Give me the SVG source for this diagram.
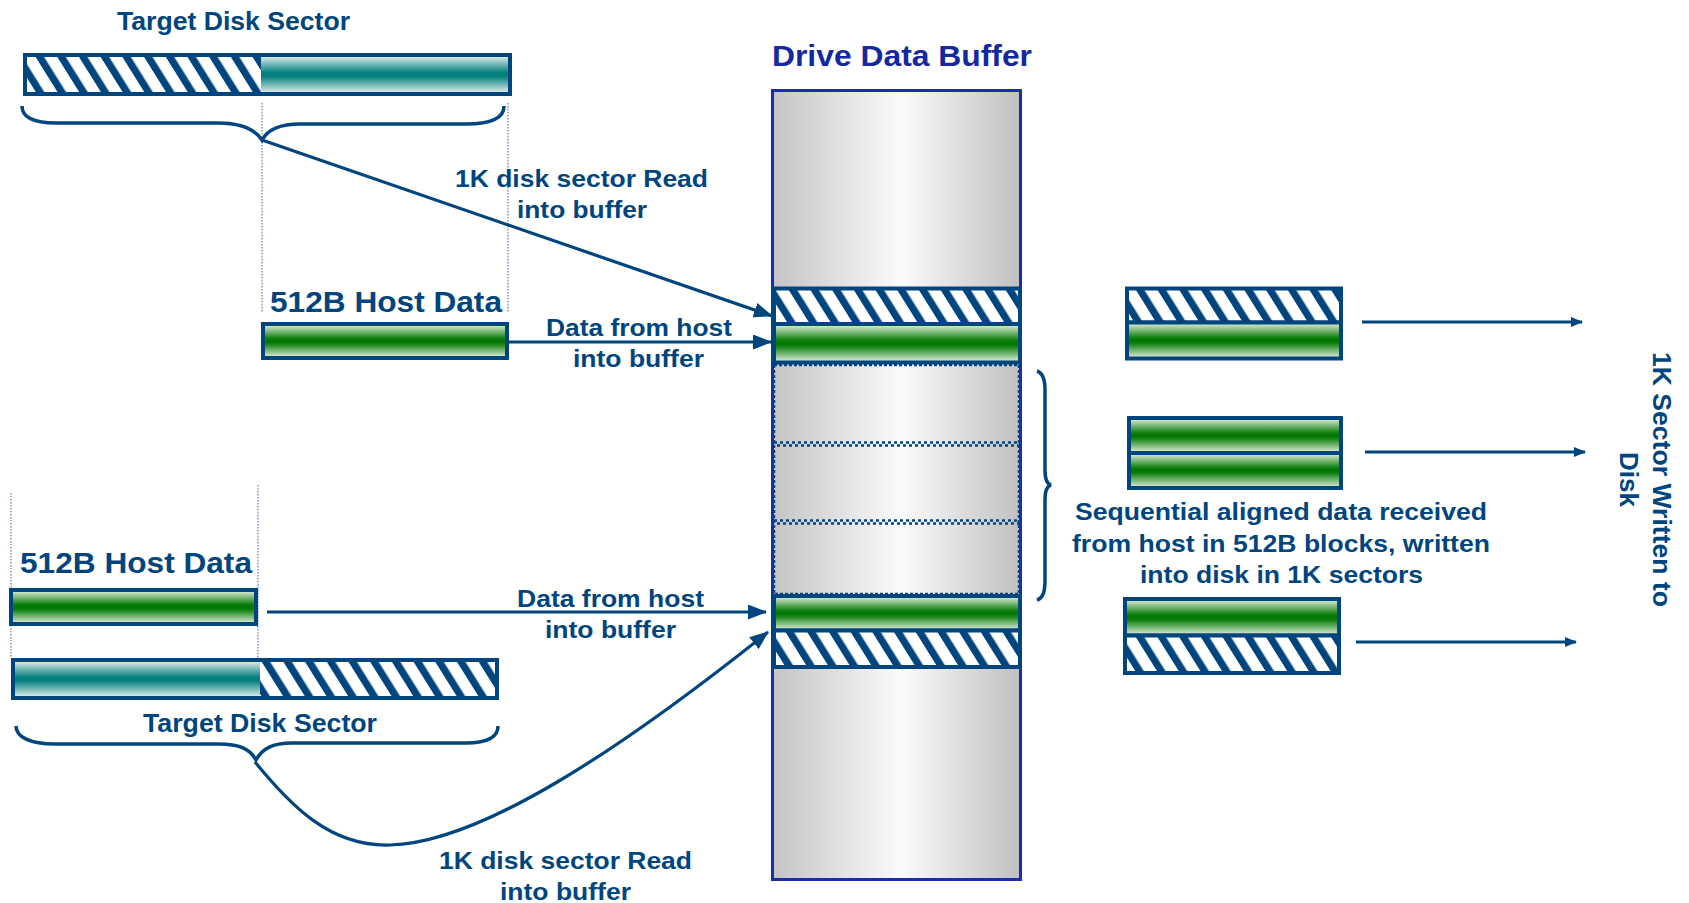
<svg xmlns="http://www.w3.org/2000/svg" width="1689" height="903" viewBox="0 0 1689 903">
<defs>
<style>
.t{font-family:"Liberation Sans",Arial,sans-serif;font-weight:bold;fill:#00457d}
.box{stroke:#00457d;stroke-width:4}
.ln{stroke:#00457d;stroke-width:3.2;fill:none}
.br{stroke:#00457d;stroke-width:3.5;fill:none}
.dot{stroke:#5b80a8;stroke-width:1.2;stroke-dasharray:1.5 1.5;fill:none}
.sep{stroke:#00457d;stroke-width:2.5;stroke-dasharray:3 3}
</style>
<linearGradient id="teal" x1="0" y1="0" x2="0" y2="1">
<stop offset="0" stop-color="#f0f7f3"/><stop offset="0.45" stop-color="#04807e"/><stop offset="0.55" stop-color="#04807e"/><stop offset="1" stop-color="#f0f7f3"/>
</linearGradient>
<linearGradient id="green" x1="0" y1="0" x2="0" y2="1">
<stop offset="0" stop-color="#ecf3e6"/><stop offset="0.42" stop-color="#0f800f"/><stop offset="0.5" stop-color="#007600"/><stop offset="0.58" stop-color="#0f800f"/><stop offset="1" stop-color="#ecf3e6"/>
</linearGradient>
<linearGradient id="gray" x1="0" y1="0" x2="1" y2="0">
<stop offset="0" stop-color="#c4c4c4"/><stop offset="0.52" stop-color="#fbfbfb"/><stop offset="1" stop-color="#c0c0c0"/>
</linearGradient>
<pattern id="hatch" patternUnits="userSpaceOnUse" width="18.4" height="18.4" patternTransform="rotate(-32)">
<rect width="18.4" height="18.4" fill="#ffffff"/><rect width="7.2" height="18.4" fill="#00457d"/>
</pattern>
<marker id="ah" markerUnits="userSpaceOnUse" markerWidth="19" markerHeight="15" refX="18" refY="7.5" orient="auto">
<path d="M0,0 L19,7.5 L0,15 z" fill="#00457d"/>
</marker>
<marker id="ahs" markerUnits="userSpaceOnUse" markerWidth="12" markerHeight="10" refX="11" refY="5" orient="auto">
<path d="M0,0 L12,5 L0,10 z" fill="#00457d"/>
</marker>
</defs>
<rect width="1689" height="903" fill="#ffffff"/>

<g id="guides">
<line class="dot" x1="262" y1="103" x2="262" y2="313"/>
<line class="dot" x1="508" y1="103" x2="508" y2="313"/>
<line class="dot" x1="11" y1="493" x2="11" y2="658"/>
<line class="dot" x1="258" y1="485" x2="258" y2="658"/>
</g>

<g id="top-sector">
<text class="t" x="117" y="30" font-size="25.5" textLength="233" lengthAdjust="spacingAndGlyphs">Target Disk Sector</text>
<rect x="25" y="55" width="236" height="39" fill="url(#hatch)"/>
<rect x="261" y="55" width="249" height="39" fill="url(#teal)"/>
<rect class="box" x="25" y="55" width="485" height="39" fill="none"/>
</g>

<g id="host-data-top">
<text class="t" x="270" y="312" font-size="29" textLength="232" lengthAdjust="spacingAndGlyphs">512B Host Data</text>
<rect class="box" x="263" y="324" width="244" height="34" fill="url(#green)"/>
</g>

<g id="drive-buffer">
<text x="772" y="66" font-size="29" textLength="260" lengthAdjust="spacingAndGlyphs" style="font-family:'Liberation Sans',Arial,sans-serif;font-weight:bold;fill:#1428a0">Drive Data Buffer</text>
<rect x="772.5" y="90.5" width="248" height="789" fill="url(#gray)" stroke="#1a2eaa" stroke-width="3"/>
<rect class="box" x="774" y="288.5" width="246" height="35.5" fill="url(#hatch)"/>
<rect class="box" x="774" y="324" width="246" height="38.5" fill="url(#green)"/>
<rect x="774" y="365" width="245" height="229" fill="none" stroke="#00457d" stroke-width="2.5" stroke-dasharray="3 2"/>
<line class="sep" x1="774" y1="442.5" x2="1019" y2="442.5"/>
<line class="sep" x1="777" y1="445.5" x2="1019" y2="445.5"/>
<line class="sep" x1="774" y1="520.5" x2="1019" y2="520.5"/>
<line class="sep" x1="777" y1="523.5" x2="1019" y2="523.5"/>
<rect class="box" x="774" y="596" width="246" height="34.5" fill="url(#green)"/>
<rect class="box" x="774" y="630.5" width="246" height="36.5" fill="url(#hatch)"/>
</g>

<g id="written-sector-1">
<rect class="box" x="1127" y="288.5" width="214" height="34" fill="url(#hatch)"/>
<rect class="box" x="1127" y="322.5" width="214" height="36" fill="url(#green)"/>
</g>
<g id="written-sector-2">
<rect class="box" x="1129" y="418" width="212" height="35" fill="url(#green)"/>
<rect class="box" x="1129" y="453" width="212" height="35" fill="url(#green)"/>
</g>
<g id="written-sector-3">
<rect class="box" x="1125" y="599" width="214" height="36.5" fill="url(#green)"/>
<rect class="box" x="1125" y="635.5" width="214" height="37.5" fill="url(#hatch)"/>
</g>

<g id="host-data-bottom">
<text class="t" x="20" y="573" font-size="29" textLength="232" lengthAdjust="spacingAndGlyphs">512B Host Data</text>
<rect class="box" x="11" y="590" width="245" height="34" fill="url(#green)"/>
</g>

<g id="bottom-sector">
<rect x="13" y="660" width="247" height="38" fill="url(#teal)"/>
<rect x="260" y="660" width="237" height="38" fill="url(#hatch)"/>
<rect class="box" x="13" y="660" width="484" height="38" fill="none"/>
<text class="t" x="143" y="732" font-size="25.5" textLength="234" lengthAdjust="spacingAndGlyphs">Target Disk Sector</text>
</g>

<g id="braces">
<path class="br" d="M22,106 C22,117 34,123 56,123 L218,123 C240,123 254,128 262,140 C268,129 281,124 300,124 L466,124 C490,124 504,118 504,106"/>
<path class="br" d="M16,726 C16,737 30,744 55,744 L218,744 C240,744 250,749 256,760 C262,749 272,743 292,743 L466,743 C488,743 498,737 498,726"/>
<path class="br" d="M1037,371 C1043,373 1045,379 1045,390 L1045,470 C1045,480 1047,484 1051,485 C1047,486 1045,490 1045,500 L1045,580 C1045,592 1043,598 1037,600"/>
</g>

<g id="connectors">
<line class="ln" x1="262" y1="140" x2="772" y2="316" marker-end="url(#ah)"/>
<line class="ln" x1="509" y1="342" x2="771" y2="342" marker-end="url(#ah)"/>
<line class="ln" x1="267" y1="612" x2="766" y2="612" marker-end="url(#ah)"/>
<path class="ln" d="M255,762 C290,805 330,847 390,845 C480,843 620,750 768,632" marker-end="url(#ah)"/>
<line class="ln" x1="1362" y1="322" x2="1582" y2="322" marker-end="url(#ahs)"/>
<line class="ln" x1="1365" y1="452" x2="1585" y2="452" marker-end="url(#ahs)"/>
<line class="ln" x1="1356" y1="642" x2="1576" y2="642" marker-end="url(#ahs)"/>
</g>

<g id="labels">
<text class="t" x="455" y="187" font-size="24" textLength="253" lengthAdjust="spacingAndGlyphs">1K disk sector Read</text>
<text class="t" x="517" y="218" font-size="24" textLength="130" lengthAdjust="spacingAndGlyphs">into buffer</text>
<text class="t" x="546" y="336" font-size="24" textLength="186" lengthAdjust="spacingAndGlyphs">Data from host</text>
<text class="t" x="573" y="367" font-size="24" textLength="131" lengthAdjust="spacingAndGlyphs">into buffer</text>
<text class="t" x="517" y="607" font-size="24" textLength="187" lengthAdjust="spacingAndGlyphs">Data from host</text>
<text class="t" x="545" y="638" font-size="24" textLength="131" lengthAdjust="spacingAndGlyphs">into buffer</text>
<text class="t" x="439" y="869" font-size="24" textLength="253" lengthAdjust="spacingAndGlyphs">1K disk sector Read</text>
<text class="t" x="500" y="900" font-size="24" textLength="131" lengthAdjust="spacingAndGlyphs">into buffer</text>
<text class="t" x="1075" y="520" font-size="24" textLength="412" lengthAdjust="spacingAndGlyphs">Sequential aligned data received</text>
<text class="t" x="1072" y="552" font-size="24" textLength="418" lengthAdjust="spacingAndGlyphs">from host in 512B blocks, written</text>
<text class="t" x="1140" y="583" font-size="24" textLength="283" lengthAdjust="spacingAndGlyphs">into disk in 1K sectors</text>
<text class="t" transform="translate(1653,479.5) rotate(90)" x="-127.5" y="0" font-size="26.5" textLength="255" lengthAdjust="spacingAndGlyphs">1K Sector Written to</text>
<text class="t" transform="translate(1620,479.5) rotate(90)" x="-27.5" y="0" font-size="26.5" textLength="55" lengthAdjust="spacingAndGlyphs">Disk</text>
</g>
</svg>
